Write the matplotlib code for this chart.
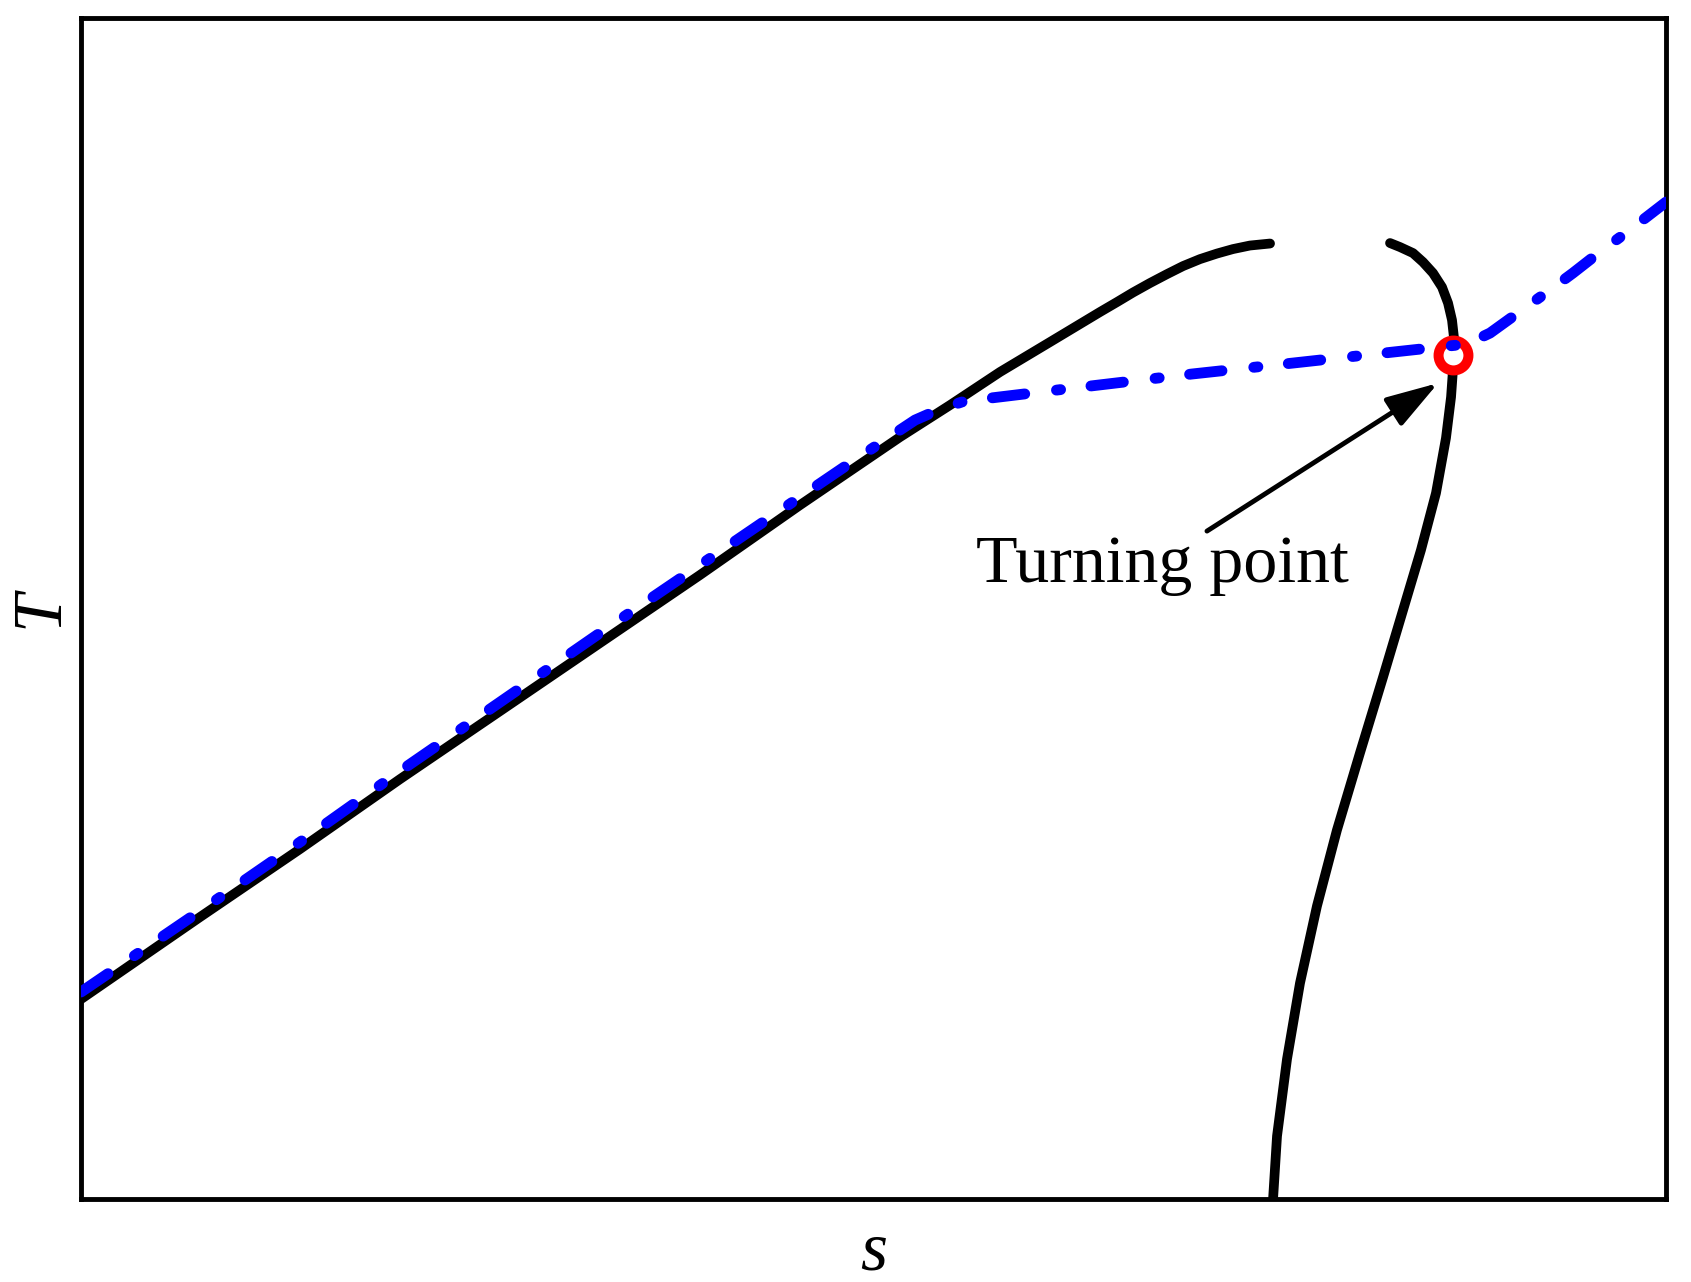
import matplotlib.pyplot as plt

# ---------------------------------------------------------
# T-s sketch with turning point (values read off the figure,
# arbitrary units, axes span 0..10)
# ---------------------------------------------------------

# left black branch
s_branch1 = [0.000, 0.751, 1.382, 2.013, 2.644, 3.274, 3.905, 4.536, 5.167,
             5.483, 5.798, 6.114, 6.429, 6.536, 6.637, 6.744, 6.852, 6.953,
             7.060, 7.167, 7.268, 7.375, 7.502]
T_branch1 = [1.693, 2.388, 2.964, 3.556, 4.132, 4.708, 5.284, 5.876, 6.452,
             6.723, 7.003, 7.257, 7.511, 7.595, 7.676, 7.756, 7.832, 7.900,
             7.959, 8.006, 8.044, 8.074, 8.091]

# right black branch
s_branch2 = [8.259, 8.322, 8.404, 8.467, 8.530, 8.587, 8.625, 8.650, 8.662,
             8.662, 8.656, 8.644, 8.612, 8.549, 8.454, 8.360, 8.215, 8.069,
             7.924, 7.798, 7.691, 7.609, 7.546, 7.521]
T_branch2 = [8.095, 8.061, 8.010, 7.934, 7.841, 7.722, 7.587, 7.443, 7.299,
             7.147, 7.019, 6.791, 6.444, 5.978, 5.495, 5.072, 4.420, 3.776,
             3.124, 2.481, 1.829, 1.185, 0.533, 0.000]

# blue dash-dot path
s_path = [0.000, 0.751, 1.382, 2.013, 2.644, 3.274, 3.905, 4.536, 4.852,
          5.262, 5.420, 5.558, 5.735, 6.366, 7.009, 7.647, 8.278, 8.744,
          8.890, 9.047, 9.268, 9.413, 9.558, 9.779, 10.000]
T_path = [1.753, 2.439, 3.023, 3.624, 4.208, 4.793, 5.368, 5.944, 6.232,
          6.596, 6.689, 6.749, 6.782, 6.884, 6.986, 7.079, 7.172, 7.240,
          7.333, 7.485, 7.697, 7.841, 7.993, 8.213, 8.442]

# turning point and annotation
s_turn, T_turn = 8.656, 7.147
s_tip, T_tip = 8.562, 6.909
s_tail, T_tail = 7.104, 5.656
s_text, T_text = 6.820, 5.224

plt.rcParams["lines.scale_dashes"] = False
serif = "Liberation Serif"

fig = plt.figure(figsize=(16.91, 12.82), dpi=100)
ax = fig.add_axes([0.0479, 0.0647, 0.9373, 0.9212])

ax.plot(s_branch1, T_branch1, color="black", lw=7, solid_capstyle="round",
        solid_joinstyle="round", zorder=2)
ax.plot(s_branch2, T_branch2, color="black", lw=7, solid_capstyle="round",
        solid_joinstyle="round", zorder=2)
ax.plot([s_turn], [T_turn], marker="o", ms=21.5, mew=7.2, mec="red",
        mfc="white", ls="none", zorder=3)
ax.plot(s_path, T_path, color="blue", lw=7.8,
        linestyle=(0, (23.5, 23, 3, 22)), dash_capstyle="round",
        dash_joinstyle="round", zorder=4)

ax.annotate("", xy=(s_tip, T_tip), xytext=(s_tail, T_tail),
            arrowprops=dict(arrowstyle="-|>,head_length=32,head_width=10",
                            mutation_scale=1, lw=3.5, color="black",
                            shrinkA=0, shrinkB=0, capstyle="round"),
            zorder=5)
ax.text(s_text, T_text, "Turning point", ha="center", va="baseline",
        fontsize=49, family=serif)

ax.set_xlim(0, 10)
ax.set_ylim(0, 10)
ax.set_xticks([])
ax.set_yticks([])
for sp in ax.spines.values():
    sp.set_linewidth(3.5)

ax.set_xlabel("s", fontsize=50, family=serif, style="italic", labelpad=16)
ax.set_ylabel("T", fontsize=50, family=serif, style="italic", labelpad=6)

plt.savefig("out.png", dpi=100)
plt.close()
